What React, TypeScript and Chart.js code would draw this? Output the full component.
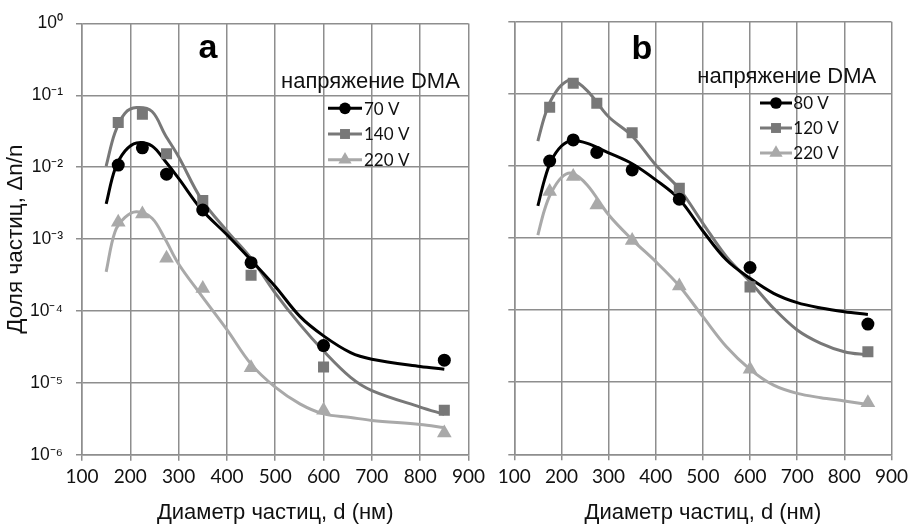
import React, { useEffect, useRef } from 'react';
import { Chart, registerables } from 'chart.js';

Chart.register(...registerables);

// ---------- data ----------
const markerX = [175, 225, 275, 350, 450, 600, 850];

const aSeriesNames = ['70 V', '140 V', '220 V'];
const aMarkers70 = [0.0107, 0.0186, 0.008, 0.00254, 4.7e-4, 3.3e-5, 2.07e-5];
const aMarkers140 = [0.042, 0.0547, 0.0154, 0.00343, 3.15e-4, 1.66e-5, 4.15e-6];
const aMarkers220 = [1.72e-3, 2.24e-3, 5.4e-4, 2.05e-4, 1.62e-5, 4.15e-6, 2.0e-6];

const aCurveX = [150, 168, 189, 213, 245, 272, 300, 347, 400, 450, 500, 551, 600, 656, 700, 800, 850];
const aCurve70 = [3.08e-3, 9.3e-3, 0.0168, 0.0218, 0.0198, 0.0122, 7.0e-3, 2.6e-3, 1.15e-3, 5.1e-4, 2.19e-4, 8.4e-5, 4.5e-5, 2.63e-5, 2.13e-5, 1.69e-5, 1.55e-5];
const aCurve140 = [0.0104, 0.03, 0.0565, 0.0676, 0.0596, 0.0284, 0.014, 3.6e-3, 1.3e-3, 5.4e-4, 1.77e-4, 6.5e-5, 2.77e-5, 1.19e-5, 7.8e-6, 4.6e-6, 3.64e-6];
const aCurve220 = [3.5e-4, 1.25e-3, 2.0e-3, 2.4e-3, 1.95e-3, 1.0e-3, 4.5e-4, 1.65e-4, 5.5e-5, 1.82e-5, 8.7e-6, 5.1e-6, 3.7e-6, 3.3e-6, 3.0e-6, 2.63e-6, 2.39e-6];

const bSeriesNames = ['80 V', '120 V', '220 V'];
const bMarkers80 = [0.0117, 0.0229, 0.0154, 8.8e-3, 3.45e-3, 3.9e-4, 6.4e-5];
const bMarkers120 = [0.065, 0.14, 0.074, 0.0289, 4.9e-3, 2.1e-4, 2.65e-5];
const bMarkers220 = [4.4e-3, 7.1e-3, 2.87e-3, 9.2e-4, 2.16e-4, 1.51e-5, 5.2e-6];

const bCurveX = [150, 164, 178, 200, 222, 255, 300, 350, 400, 450, 500, 550, 600, 650, 700, 750, 800, 850];
const bCurve80 = [2.78e-3, 6.4e-3, 0.0117, 0.0189, 0.0224, 0.0205, 0.0152, 0.0107, 6.4e-3, 3.45e-3, 1.25e-3, 4.95e-4, 2.76e-4, 1.71e-4, 1.27e-4, 1.07e-4, 9.5e-5, 8.7e-5];
const bCurve120 = [0.0221, 0.048, 0.082, 0.132, 0.155, 0.11, 0.048, 0.026, 0.0103, 4.8e-3, 1.6e-3, 5.5e-4, 2.48e-4, 1.06e-4, 5.3e-5, 3.46e-5, 2.65e-5, 2.38e-5];
const bCurve220 = [1.1e-3, 2.45e-3, 4.2e-3, 6.9e-3, 7.9e-3, 5.4e-3, 2.1e-3, 9.5e-4, 4.7e-4, 2.16e-4, 8.1e-5, 3.1e-5, 1.51e-5, 9.1e-6, 7.0e-6, 6.1e-6, 5.5e-6, 4.9e-6];

const xTickValues = [100, 200, 300, 400, 500, 600, 700, 800, 900];
const yTickValues = [1, 0.1, 0.01, 0.001, 1e-4, 1e-5, 1e-6];
const yTickLabels = ['10⁰', '10⁻¹', '10⁻²', '10⁻³', '10⁻⁴', '10⁻⁵', '10⁻⁶'];

const legendTitle = 'напряжение DMA';
const xTitle = 'Диаметр частиц, d (нм)';
const yTitle = 'Доля частиц, Δn/n';

// ---------- styles ----------
const FONT = '"Liberation Sans", Arial, Helvetica, sans-serif';
const NUM_FONT = 'Lato, "Liberation Sans", sans-serif';
const seriesColors = ['#000000', '#787878', '#a9a9a9'];
const seriesStyles = ['circle', 'rect', 'triangle'];
const seriesRadii = [6.5, 7.8, 8.5];
const gridColor = '#8e8e8e';

type Panel = {
  letter: string;
  names: string[];
  markers: number[][];
  curveX: number[];
  curves: number[][];
  canvasLeft: number;
  width: number;
  padTop: number;
  padRight: number;
  yAxisWidth: number;
  xAxisHeight: number;
  showYLabels: boolean;
  letterDx: number;
  letterDy: number;
  titleDx: number;
  titleDy: number;
  lineDx0: number;
  lineDx1: number;
  textDx: number;
  entryDy: number;
  entryGap: number;
};

const panels: Panel[] = [
  {
    letter: 'a',
    names: aSeriesNames,
    markers: [aMarkers70, aMarkers140, aMarkers220],
    curveX: aCurveX,
    curves: [aCurve70, aCurve140, aCurve220],
    canvasLeft: 0,
    width: 490,
    padTop: 19.5,
    padRight: 20.5,
    yAxisWidth: 82,
    xAxisHeight: 69.3,
    showYLabels: true,
    letterDx: 126,
    letterDy: 34.5,
    titleDx: 199,
    titleDy: 58,
    lineDx0: 246,
    lineDx1: 280,
    textDx: 282,
    entryDy: 84.8,
    entryGap: 25.7,
  },
  {
    letter: 'b',
    names: bSeriesNames,
    markers: [bMarkers80, bMarkers120, bMarkers220],
    curveX: bCurveX,
    curves: [bCurve80, bCurve120, bCurve220],
    canvasLeft: 490,
    width: 423,
    padTop: 21.7,
    padRight: 16.3,
    yAxisWidth: 24.3,
    xAxisHeight: 69.7,
    showYLabels: false,
    letterDx: 127.7,
    letterDy: 37.3,
    titleDx: 183,
    titleDy: 55,
    lineDx0: 245.7,
    lineDx1: 277.7,
    textDx: 279,
    entryDy: 81.3,
    entryGap: 25,
  },
];

function drawMarker(ctx: CanvasRenderingContext2D, style: string, x: number, y: number, r: number, color: string) {
  ctx.fillStyle = color;
  ctx.beginPath();
  if (style === 'circle') {
    ctx.arc(x, y, r, 0, Math.PI * 2);
  } else if (style === 'rect') {
    const s = r * Math.SQRT1_2;
    ctx.rect(x - s, y - s, 2 * s, 2 * s);
  } else {
    const h = r * 1.5;
    const half = (r * Math.sqrt(3)) / 2;
    ctx.moveTo(x, y - r);
    ctx.lineTo(x + half, y - r + h);
    ctx.lineTo(x - half, y - r + h);
    ctx.closePath();
  }
  ctx.fill();
}

function makeOverlay(p: Panel) {
  return {
    id: 'overlay' + p.letter,
    afterDraw(chart: any) {
      const { ctx, chartArea } = chart;
      const L = chartArea.left;
      const T = chartArea.top;
      ctx.save();
      ctx.fillStyle = '#000';
      ctx.font = `bold 34px ${FONT}`;
      ctx.textAlign = 'center';
      ctx.textBaseline = 'alphabetic';
      ctx.fillText(p.letter, L + p.letterDx, T + p.letterDy);

      ctx.font = `22px ${FONT}`;
      ctx.textAlign = 'left';
      ctx.textBaseline = 'middle';
      ctx.fillStyle = '#111';
      ctx.fillText(legendTitle, L + p.titleDx, T + p.titleDy);

      ctx.font = `17px ${NUM_FONT}`;
      p.names.forEach((name, i) => {
        const y = T + p.entryDy + i * p.entryGap;
        ctx.strokeStyle = seriesColors[i];
        ctx.lineWidth = 3;
        ctx.beginPath();
        ctx.moveTo(L + p.lineDx0, y);
        ctx.lineTo(L + p.lineDx1, y);
        ctx.stroke();
        drawMarker(ctx, seriesStyles[i], L + (p.lineDx0 + p.lineDx1) / 2, y, seriesRadii[i] * 0.9, seriesColors[i]);
        ctx.fillStyle = '#111';
        ctx.fillText(name, L + p.textDx, y + 1);
      });
      ctx.restore();
    },
  };
}

function buildConfig(p: Panel): any {
  const markerSets = p.markers.map((vals, i) => ({
    label: p.names[i],
    data: markerX.map((x, j) => ({ x, y: vals[j] })),
    showLine: false,
    pointStyle: seriesStyles[i],
    pointRadius: seriesRadii[i],
    pointBorderWidth: 0,
    backgroundColor: seriesColors[i],
    borderColor: seriesColors[i],
  }));
  const curveSets = p.curves.map((vals, i) => ({
    label: p.names[i] + ' fit',
    data: p.curveX.map((x, j) => ({ x, y: vals[j] })),
    borderColor: seriesColors[i],
    borderWidth: 3,
    pointRadius: 0,
    tension: 0.35,
    fill: false,
  }));
  return {
    type: 'line',
    data: { datasets: [...markerSets, ...curveSets] },
    plugins: [makeOverlay(p)],
    options: {
      animation: false,
      responsive: false,
      events: [],
      layout: { autoPadding: false, padding: { left: 0, top: p.padTop, right: p.padRight, bottom: 0 } },
      plugins: { legend: { display: false }, tooltip: { enabled: false } },
      scales: {
        x: {
          type: 'linear',
          min: 100,
          max: 900,
          afterBuildTicks: (s: any) => {
            s.ticks = xTickValues.map((v) => ({ value: v }));
          },
          afterFit: (s: any) => {
            s.height = p.xAxisHeight;
          },
          ticks: { font: { size: 19, family: NUM_FONT }, color: '#111', padding: 5, maxRotation: 0, autoSkip: false },
          grid: { color: gridColor, lineWidth: 1.5, tickLength: 6, tickColor: gridColor },
          border: { color: gridColor, width: 1.5 },
          title: {
            display: true,
            text: xTitle,
            color: '#111',
            font: { size: 22, family: FONT, lineHeight: 1 },
            padding: { top: 0, bottom: 0 },
          },
        },
        y: {
          type: 'logarithmic',
          min: 1e-6,
          max: 1,
          afterBuildTicks: (s: any) => {
            s.ticks = yTickValues.map((v) => ({ value: v }));
          },
          afterFit: (s: any) => {
            s.width = p.yAxisWidth;
          },
          ticks: {
            display: p.showYLabels,
            font: { size: 17.5, family: FONT },
            color: '#111',
            padding: 13,
            autoSkip: false,
            callback: (v: number) => yTickLabels[yTickValues.indexOf(v)] ?? '',
          },
          grid: { color: gridColor, lineWidth: 1.5, tickLength: 6, tickColor: gridColor },
          border: { color: gridColor, width: 1.5 },
          title: {
            display: p.showYLabels,
            text: yTitle,
            color: '#111',
            font: { size: 22.5, family: FONT, lineHeight: 1 },
            padding: { top: 5, bottom: 0 },
          },
        },
      },
    },
  };
}

function PanelChart({ p }: { p: Panel }) {
  const ref = useRef<HTMLCanvasElement | null>(null);
  useEffect(() => {
    if (!ref.current) return;
    const chart = new Chart(ref.current, buildConfig(p));
    return () => chart.destroy();
  }, [p]);
  return (
    <canvas
      ref={ref}
      width={p.width}
      height={524}
      style={{ position: 'absolute', left: p.canvasLeft, top: 0, width: p.width, height: 524, display: 'block' }}
    />
  );
}

export default function App() {
  return (
    <div style={{ position: 'absolute', left: 0, top: 0, width: 913, height: 524, background: '#ffffff', overflow: 'hidden' }}>
      {panels.map((p) => (
        <PanelChart key={p.letter} p={p} />
      ))}
    </div>
  );
}
